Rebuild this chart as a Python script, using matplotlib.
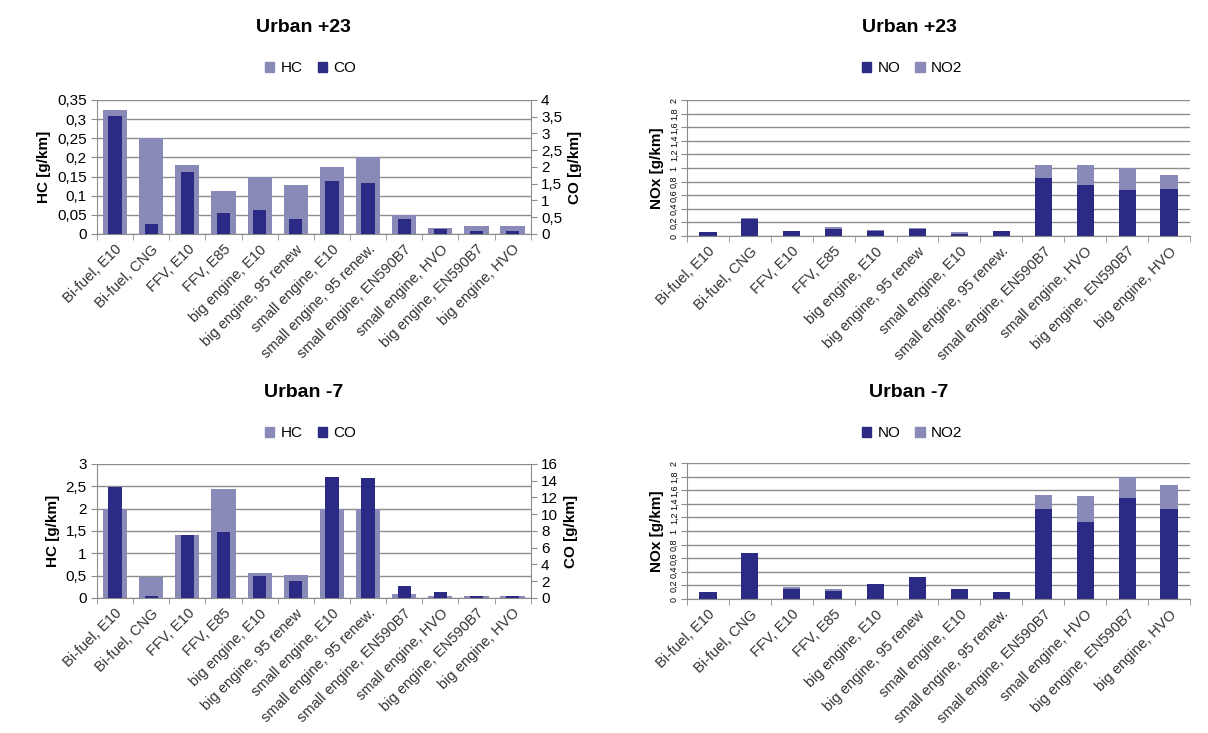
import matplotlib
matplotlib.use("Agg")
import matplotlib.pyplot as plt
import matplotlib.ticker as ticker
import numpy as np

plt.rcParams["font.family"] = ["Liberation Sans", "DejaVu Sans"]

categories = [
    "Bi-fuel, E10", "Bi-fuel, CNG", "FFV, E10", "FFV, E85",
    "big engine, E10", "big engine, 95 renew", "small engine, E10",
    "small engine, 95 renew.", "small engine, EN590B7", "small engine, HVO",
    "big engine, EN590B7", "big engine, HVO",
]

# Urban +23
hc_warm = [0.325, 0.25, 0.18, 0.113, 0.15, 0.128, 0.175, 0.2, 0.05, 0.015, 0.02, 0.02]
co_warm = [3.52, 0.29, 1.86, 0.62, 0.72, 0.45, 1.58, 1.53, 0.45, 0.14, 0.08, 0.08]
no_warm = [0.06, 0.25, 0.07, 0.11, 0.08, 0.11, 0.035, 0.07, 0.85, 0.75, 0.67, 0.69]
no2_warm = [0.005, 0.01, 0.01, 0.02, 0.005, 0.005, 0.025, 0.01, 0.19, 0.29, 0.33, 0.21]

# Urban -7
hc_cold = [2.0, 0.46, 1.42, 2.43, 0.57, 0.51, 2.0, 2.0, 0.09, 0.05, 0.04, 0.04]
co_cold = [13.3, 0.28, 7.57, 7.85, 2.67, 2.0, 14.4, 14.3, 1.39, 0.68, 0.24, 0.24]
no_cold = [0.11, 0.68, 0.15, 0.12, 0.22, 0.33, 0.14, 0.11, 1.32, 1.14, 1.49, 1.32]
no2_cold = [0.0, 0.0, 0.02, 0.02, 0.0, 0.0, 0.0, 0.0, 0.21, 0.37, 0.30, 0.35]

DARK = "#2b2a84"
LIGHT = "#8a8ab8"
GRID = "#8c8c8c"


def comma(v, pos=None):
    s = f"{v:g}"
    return s.replace(".", ",")


def style_x(ax):
    x = np.arange(len(categories))
    ax.set_xlim(-0.5, len(categories) - 0.5)
    ax.set_xticks(x)
    ax.set_xticklabels(categories, rotation=45, ha="right", rotation_mode="anchor",
                       fontsize=10.5, color="#333333")
    ax.tick_params(axis="x", which="major", length=0, pad=6)
    ax.set_xticks(np.arange(len(categories) + 1) - 0.5, minor=True)
    ax.tick_params(axis="x", which="minor", length=4, color=GRID)
    for side in ("top", "right"):
        ax.spines[side].set_visible(False)
    ax.spines["left"].set_color(GRID)
    ax.spines["bottom"].set_color(GRID)
    ax.yaxis.grid(True, color=GRID, linewidth=1)
    ax.set_axisbelow(True)


def hc_co_panel(fig, rect, hc, co, hc_max, hc_step, co_max, co_step):
    ax = fig.add_axes(rect)
    x = np.arange(len(categories))
    ax.bar(x, hc, width=0.67, color=LIGHT, label="HC", zorder=2)
    style_x(ax)
    ax.set_ylim(0, hc_max)
    ax.set_yticks(np.arange(0, hc_max + hc_step / 2, hc_step))
    ax.yaxis.set_major_formatter(ticker.FuncFormatter(comma))
    ax.tick_params(axis="y", labelsize=11, length=4, color=GRID)
    ax.set_ylabel("HC [g/km]", fontsize=11, fontweight="bold")

    ax2 = ax.twinx()
    ax2.bar(x, co, width=0.37, color=DARK, label="CO", zorder=3)
    ax2.set_ylim(0, co_max)
    ax2.set_yticks(np.arange(0, co_max + co_step / 2, co_step))
    ax2.yaxis.set_major_formatter(ticker.FuncFormatter(comma))
    ax2.tick_params(axis="y", labelsize=11, length=4, color=GRID)
    for side in ("top", "left", "bottom"):
        ax2.spines[side].set_visible(False)
    ax2.spines["right"].set_color(GRID)
    ax2.set_ylabel("CO [g/km]", fontsize=11, fontweight="bold")
    return ax, ax2


def nox_panel(fig, rect, no, no2):
    ax = fig.add_axes(rect)
    x = np.arange(len(categories))
    ax.bar(x, no, width=0.41, color=DARK, label="NO", zorder=2)
    ax.bar(x, no2, width=0.41, bottom=no, color=LIGHT, label="NO2", zorder=2)
    style_x(ax)
    ax.set_ylim(0, 2)
    ax.set_yticks(np.arange(0, 2.1, 0.2))
    ax.yaxis.set_major_formatter(ticker.FuncFormatter(comma))
    # squeezed, rotated tick labels as in the source chart
    ax.tick_params(axis="y", labelsize=6.5, length=4, color=GRID, labelrotation=90, pad=2)
    for lab in ax.get_yticklabels():
        lab.set_va("center")
    ax.set_ylabel("NOx [g/km]", fontsize=11, fontweight="bold", labelpad=4)
    return ax


def legend(fig, xc, y, items):
    handles = [plt.Rectangle((0, 0), 1, 1, color=c) for _, c in items]
    labels = [n for n, _ in items]
    fig.legend(handles, labels, loc="center", bbox_to_anchor=(xc, y), ncol=len(items),
               frameon=False, fontsize=11, handlelength=0.6, handleheight=0.6,
               handletextpad=0.4, columnspacing=1.0)


fig = plt.figure(figsize=(12.08, 7.33), dpi=100)

hc_co_panel(fig, [0.0803, 0.6808, 0.359, 0.1828], hc_warm, co_warm, 0.35, 0.05, 4, 0.5)
nox_panel(fig, [0.5687, 0.678, 0.4164, 0.1855], no_warm, no2_warm)
hc_co_panel(fig, [0.0803, 0.1842, 0.359, 0.1828], hc_cold, co_cold, 3, 0.5, 16, 2)
nox_panel(fig, [0.5687, 0.1828, 0.4164, 0.1855], no_cold, no2_cold)

fig.text(0.251, 0.962, "Urban +23", ha="center", va="center", fontsize=14, fontweight="bold")
fig.text(0.753, 0.962, "Urban +23", ha="center", va="center", fontsize=14, fontweight="bold")
fig.text(0.251, 0.464, "Urban -7", ha="center", va="center", fontsize=14, fontweight="bold")
fig.text(0.752, 0.464, "Urban -7", ha="center", va="center", fontsize=14, fontweight="bold")

legend(fig, 0.257, 0.907, [("HC", LIGHT), ("CO", DARK)])
legend(fig, 0.755, 0.907, [("NO", DARK), ("NO2", LIGHT)])
legend(fig, 0.257, 0.409, [("HC", LIGHT), ("CO", DARK)])
legend(fig, 0.755, 0.409, [("NO", DARK), ("NO2", LIGHT)])

fig.savefig("out.png", dpi=100)
